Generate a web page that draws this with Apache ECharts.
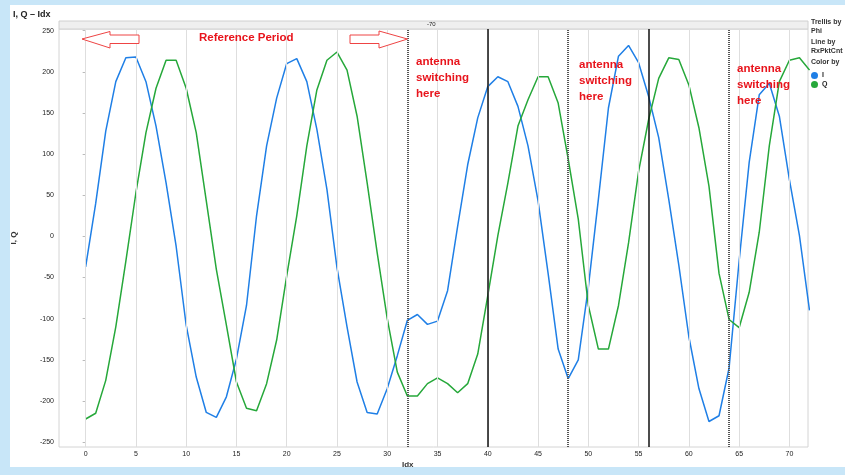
<!DOCTYPE html>
<html>
<head>
<meta charset="utf-8">
<title>I, Q - Idx</title>
<script src="https://cdn.jsdelivr.net/npm/echarts@6.0.0/dist/echarts.min.js"></script>
<style>
    html, body { margin: 0; padding: 0; background: #c8e6f8; }
    #main { width: 845px; height: 475px; }
</style>
</head>
<body>
<div id="main"></div>
<script>
var xTicks = [0, 5, 10, 15, 20, 25, 30, 35, 40, 45, 50, 55, 60, 65, 70];
var yTicks = [-250, -200, -150, -100, -50, 0, 50, 100, 150, 200, 250];

// I and Q per Idx (0..72)
var iValues = [
    -37, 40, 128, 188, 217, 218, 188, 134, 65, -12,
    -108, -171, -214, -220, -195, -149, -84, 25, 110, 168,
    210, 216, 188, 130, 57, -38, -110, -177, -214, -216,
    -185, -145, -102, -95, -107, -103, -66, 12, 87, 144,
    182, 194, 188, 158, 110, 43, -45, -137, -173, -150,
    -62, 45, 156, 219, 232, 211, 170, 120, 45, -35,
    -122, -185, -225, -218, -160, -30, 90, 172, 186, 146,
    69, 1, -90
];
var qValues = [
    -222, -215, -175, -110, -30, 53, 126, 180, 214, 214,
    180, 126, 43, -40, -108, -177, -209, -212, -179, -126,
    -48, 25, 110, 178, 214, 224, 202, 146, 65, -20,
    -100, -165, -194, -194, -179, -172, -179, -190, -179, -143,
    -72, 1, 65, 134, 166, 194, 194, 162, 94, 21,
    -84, -137, -137, -84, -8, 79, 142, 192, 217, 215,
    184, 132, 61, -45, -101, -111, -68, 5, 110, 188,
    214, 217, 202
];

var switchDotted = [32, 48, 64];
var switchSolid = [40, 56];

var red = '#e8141c';
var font = 'Liberation Sans, Arial, sans-serif';

init();

function pairs(values) {
    return values.map(function (v, i) {
        return [i, v];
    });
}

function vLines(values) {
    return values.map(function (v) {
        return { xAxis: v };
    });
}

function noteText(x, y, text) {
    return {
        type: 'text', left: x, top: y, z: 20,
        style: { text: text, fill: red, font: 'bold 11.5px ' + font, lineHeight: 16 }
    };
}

function sideText(y, text) {
    return {
        type: 'text', left: 811, top: y, z: 20,
        style: { text: text, fill: '#333', font: 'bold 7px ' + font }
    };
}

function init() {
    var myChart = echarts.init(document.getElementById('main'), null, { renderer: 'canvas' });
    var option = {
        animation: false,
        backgroundColor: '#c8e6f8',
        title: {
            text: 'I, Q \u2013 Idx',
            left: 8, top: 5,
            textStyle: { fontSize: 9, fontWeight: 'bold', color: '#222', fontFamily: font }
        },
        legend: {
            data: ['I', 'Q'],
            orient: 'vertical',
            left: 811, top: 72,
            padding: 0,
            itemGap: 2,
            itemWidth: 7, itemHeight: 7,
            icon: 'circle',
            textStyle: { fontSize: 7, fontWeight: 'bold', color: '#222', fontFamily: font, padding: [0, 0, 0, -1] }
        },
        grid: {
            left: 59, top: 29, right: 37, bottom: 28,
            show: true,
            backgroundColor: '#fff',
            borderColor: '#d4d4d4',
            borderWidth: 1,
            outerBoundsMode: 'none'
        },
        xAxis: {
            type: 'value',
            min: -2.65, max: 71.85,
            axisLine: { show: false },
            axisTick: { show: false },
            splitLine: { show: false },
            axisLabel: {
                customValues: xTicks,
                fontSize: 7, color: '#222', fontFamily: font, margin: 4
            }
        },
        yAxis: {
            type: 'value',
            min: -256, max: 252,
            name: 'I, Q',
            nameLocation: 'middle',
            nameRotate: 90,
            nameGap: 41,
            nameTextStyle: { fontSize: 8, fontWeight: 'bold', color: '#333', fontFamily: font },
            axisLine: { show: false },
            axisTick: { show: true, customValues: yTicks, length: 3, lineStyle: { color: '#bbb' } },
            splitLine: { show: false },
            axisLabel: {
                customValues: yTicks,
                fontSize: 7, color: '#222', fontFamily: font, margin: 5
            }
        },
        graphic: [
            { type: 'rect', shape: { x: 10, y: 5, width: 835, height: 462 }, style: { fill: '#fff' }, z: -10 },
            { type: 'rect', shape: { x: 59, y: 21, width: 749, height: 8 }, style: { fill: '#efefef', stroke: '#d0d0d0', lineWidth: 1 }, z: 5 },
            { type: 'text', left: 427, top: 21.5, z: 6, style: { text: '-70', fill: '#222', font: '6px ' + font } },
            { type: 'text', left: 402, top: 461, z: 6, style: { text: 'Idx', fill: '#333', font: 'bold 8px ' + font } },
            {
                type: 'polygon', z: 20,
                shape: { points: [[82, 39], [110, 31.5], [110, 35], [139, 35], [139, 43.5], [110, 43.5], [110, 48]] },
                style: { fill: '#fff', stroke: '#ee4444', lineWidth: 1 }
            },
            {
                type: 'polygon', z: 20,
                shape: { points: [[350, 35], [379, 35], [379, 31], [407.5, 39], [379, 48], [379, 43.5], [350, 43.5]] },
                style: { fill: '#fff', stroke: '#ee4444', lineWidth: 1 }
            },
            { type: 'text', left: 199, top: 32, z: 20, style: { text: 'Reference Period', fill: red, font: 'bold 11.5px ' + font } },
            noteText(416, 54, 'antenna\nswitching\nhere'),
            noteText(579, 57, 'antenna\nswitching\nhere'),
            noteText(737, 61, 'antenna\nswitching\nhere'),
            sideText(19, 'Trellis by'),
            sideText(27.5, 'Phi'),
            sideText(39, 'Line by'),
            sideText(47.5, 'RxPktCnt'),
            sideText(59, 'Color by')
        ],
        series: [
            {
                name: 'grid',
                type: 'line',
                data: [],
                z: 1,
                markLine: {
                    silent: true, symbol: 'none', animation: false,
                    label: { show: false },
                    lineStyle: { color: '#dedede', width: 1, type: 'solid' },
                    data: vLines(xTicks)
                }
            },
            {
                name: 'I',
                type: 'line',
                data: pairs(iValues),
                showSymbol: false,
                symbol: 'circle',
                color: '#1f7fe6',
                lineStyle: { width: 1.5, color: '#1f7fe6' },
                z: 3
            },
            {
                name: 'Q',
                type: 'line',
                data: pairs(qValues),
                showSymbol: false,
                symbol: 'circle',
                color: '#26a83a',
                lineStyle: { width: 1.5, color: '#26a83a' },
                z: 3
            },
            {
                name: 'switch',
                type: 'line',
                data: [],
                z: 4,
                markLine: {
                    silent: true, symbol: 'none', animation: false,
                    label: { show: false },
                    data: vLines(switchDotted).map(function (d) {
                        d.lineStyle = { color: '#555', width: 2, type: [1, 1] };
                        return d;
                    }).concat(vLines(switchSolid).map(function (d) {
                        d.lineStyle = { color: '#111', width: 1.5, type: 'solid' };
                        return d;
                    }))
                }
            }
        ]
    };
    myChart.setOption(option);
}
</script>
</body>
</html>
